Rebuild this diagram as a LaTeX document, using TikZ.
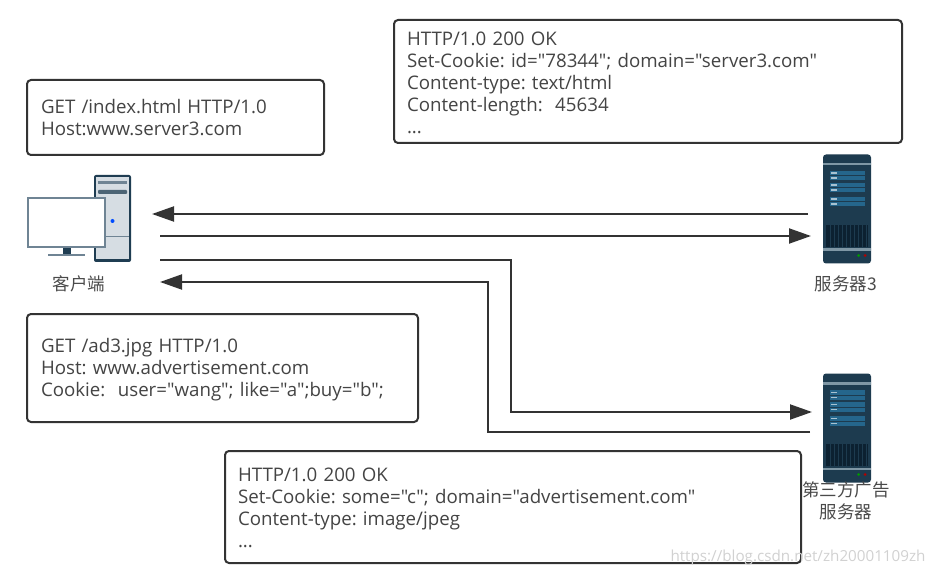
\documentclass[tikz,border=0pt]{standalone}
\usepackage{fontspec}
\setmainfont{Open Sans}[Ligatures=TeXOff]
\newfontfamily\cjk{Noto Sans CJK SC}
\usetikzlibrary{arrows.meta,positioning}
\definecolor{linedark}{HTML}{333333}
\definecolor{textgray}{HTML}{444444}
\definecolor{labelgray}{HTML}{4A4A4A}
\definecolor{srvbody}{HTML}{1D3B4F}
\definecolor{srvband}{HTML}{7F97A5}
\definecolor{srvpanel}{HTML}{25668C}
\definecolor{srvgrill}{HTML}{0C2131}
\definecolor{pcframe}{HTML}{6F8494}
\definecolor{pcdark}{HTML}{1F3D52}
\definecolor{pcfill}{HTML}{D6DDE3}
\frenchspacing

\begin{document}
\begin{tikzpicture}[
x=1pt, y=-1pt,
msgbox/.style={draw=linedark, line width=2pt, rounded corners=4pt, fill=white, align=left, inner xsep=13pt, inner ysep=0pt, text=textgray, font=\fontsize{18.7}{22}\selectfont},
iconlabel/.style={align=center, text=labelgray, font=\cjk\fontsize{17.5}{22}\selectfont},
arrow/.style={-{Triangle[length=22pt,width=15pt]}, line width=2pt, draw=linedark},
pics/clienticon/.style={code={
  \fill[pcdark, rounded corners=2pt] (66,-23) rectangle (103,64);
  \fill[pcfill] (68,-21) rectangle (101,61);
  \draw[pcframe, line width=1pt] (68,39) -- (101,39);
  \fill[pcframe] (70,-17) rectangle (99,-14);
  \fill[pcdark!80!white, rounded corners=1pt] (70,-8) rectangle (99,-4);
  \fill[blue!70!cyan] (84.5,23) circle[radius=2pt];
  \fill[pcdark] (35,49) rectangle (43,57);
  \fill[pcframe] (20,56) rectangle (57,58.5);
  \draw[pcframe, line width=2pt, fill=white] (0,0) rectangle (77,49);
}},
pics/servericon/.style={code={
  \fill[srvbody, rounded corners=3pt] (0,0) rectangle (48,109);
  \fill[srvband] (0,8.5) rectangle (48,11);
  \fill[srvband] (0,94) rectangle (48,96.5);
  \foreach \panely in {16.5,28.5,42.5} {
    \fill[srvpanel] (7,\panely) rectangle (42,\panely+9.5);
    \draw[srvbody, line width=.5pt] (7,\panely+4.75) -- (42,\panely+4.75);
    \fill[srvpanel!40!white] (8,\panely+1.5) rectangle (14,\panely+3);
    \fill[srvpanel!40!white] (8,\panely+6.5) rectangle (14,\panely+8);
  }
  \fill[srvgrill] (3,70.5) rectangle (45,92.5);
  \foreach \grillx in {7,11,...,43} {
    \draw[srvbody, line width=.5pt] (\grillx,70.5) -- (\grillx,92.5);
  }
  \fill[green!60!black] (35.5,101) circle[radius=1.5pt];
  \fill[red!70!black] (42,101) circle[radius=1.5pt];
}}
]
\useasboundingbox (0,0) rectangle (934,577);

\node[msgbox, inner xsep=14pt, text width=269pt, minimum height=75pt] (getindex) at (175.5,117.5) {GET /index.html HTTP/1.0\\Host:www.server3.com};
\node[msgbox, text width=482pt, minimum height=123pt] (resp3) at (648,81.5) {\rule{0pt}{16pt}HTTP/1.0 200 OK\\Set-Cookie: id="78344"; domain="server3.com"\\Content-type: text/html\\Content-length:\ \ 45634\\...};
\node[msgbox, inner xsep=14pt, text width=363pt, minimum height=108pt] (getad) at (222.5,368) {\rule{0pt}{18pt}GET /ad3.jpg HTTP/1.0\\Host: www.advertisement.com\\Cookie:\ \ user="wang"; like="a";buy="b";};
\node[msgbox, text width=550pt, minimum height=112pt] (respad) at (513,507) {\rule{0pt}{15.5pt}HTTP/1.0 200 OK\\Set-Cookie: some="c"; domain="advertisement.com"\\Content-type: image/jpeg\\...};

\pic at (28,198) {clienticon};
\pic at (823,154.5) {servericon};
\pic at (823,373.5) {servericon};

\node[iconlabel] (client) at (79,284) {客户端};
\node[iconlabel] (srv3) at (846,284) {服务器3};
\node[iconlabel] (srvad) at (846,501) {第三方广告\\服务器};

% arrow ends beside the icons
\coordinate (s3out) at (808,214);
\coordinate (c3in) at (152,214);
\coordinate (c3out) at (160,236);
\coordinate (s3in) at (811,236);
\coordinate (cadout) at (160,260);
\coordinate (sadin) at (812,412);
\coordinate (sadout) at (810,432);
\coordinate (cadin) at (160,282);

\draw[arrow] (s3out) -- (c3in);
\draw[arrow] (c3out) -- (s3in);
\draw[arrow] (cadout) -- (511,260) -- (511,412) -- (sadin);
\draw[arrow] (sadout) -- (488,432) -- (488,282) -- (cadin);

\node[text=black!18, font=\fontsize{15.2}{18}\selectfont, anchor=east] (mark) at (929,558) {https://blog.csdn.net/zh20001109zh};
\end{tikzpicture}
\end{document}
